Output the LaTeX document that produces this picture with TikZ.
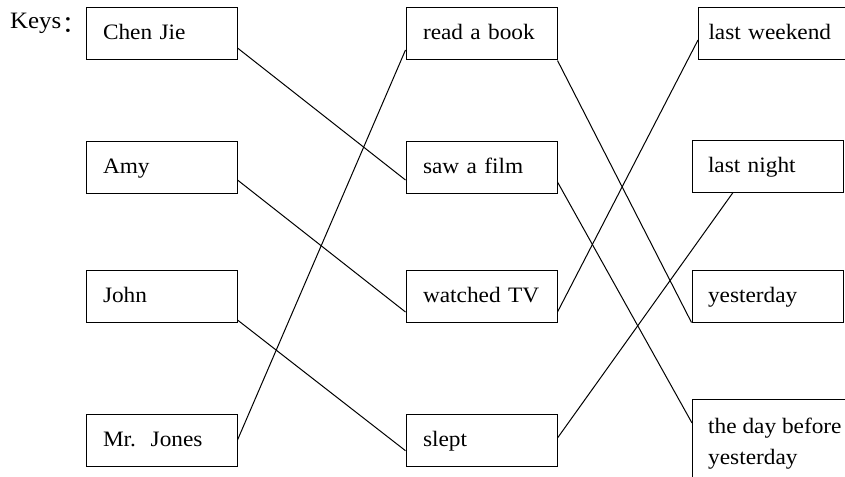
\documentclass[tikz,border=0pt]{standalone}
\usepackage{fontspec}
\setmainfont{Liberation Serif}[FakeStretch=1.06]
\newfontfamily\cjk{Noto Sans CJK SC}
\begin{document}
\begin{tikzpicture}[x=1pt,y=-1pt,
  box/.style={draw,line width=1pt,minimum height=52pt,inner xsep=17pt,inner ysep=0pt,
    text width=117pt,align=left,text height=15pt,text depth=3pt,
    font=\fontsize{22}{31}\selectfont},
  link/.style={line width=1pt}]
\useasboundingbox (0,0) rectangle (845,476);
\clip (0,0) rectangle (845,476);
% left column
\node[box] (cj) at (161.5,34) {Chen Jie};
\node[box] (amy) at (161.5,167.5) {Amy};
\node[box] (john) at (161.5,296.5) {John};
\node[box] (jones) at (161.5,440) {Mr.\ \ Jones};
% middle column
\node[box] (read) at (481.5,34) {read a book};
\node[box] (saw) at (481.5,167.5) {saw a film};
\node[box] (tv) at (481.5,296.5) {watched TV};
\node[box] (slept) at (481.5,440) {slept};
% right column
\node[box,inner xsep=10pt,text width=150pt,anchor=west] (lw) at (698,34) {last weekend};
\node[box,inner xsep=16pt,text width=119pt] (ln) at (767.5,166) {last night};
\node[box,inner xsep=16pt,text width=119pt] (yd) at (767.5,296) {yesterday};
\node[draw,line width=1pt,anchor=north west,minimum width=180pt,minimum height=110pt,inner sep=0pt] (db) at (692,399) {};
\node[anchor=north west,inner sep=0pt,align=left,font=\fontsize{22}{30.7}\selectfont] (dbt) at (708,417.7) {the day before\\yesterday};
% label
\node[anchor=base west,inner sep=0pt,font=\fontsize{23.5}{28}\selectfont] (keys) at (10,28.3) {Keys\kern1pt\raisebox{-4pt}{\cjk ：}};
% connectors
\draw[link] ([yshift=-14pt]cj.east) -- ([yshift=-12.5pt]saw.west);
\draw[link] ([yshift=-12.5pt]amy.east) -- ([yshift=-15.5pt]tv.west);
\draw[link] ([yshift=-23.5pt]john.east) -- ([yshift=-10.7pt]slept.west);
\draw[link] (jones.east) -- ([yshift=-16pt]read.west);
\draw[link] (read.south east) -- (yd.south west);
\draw[link] ([yshift=-14.5pt]saw.east) -- ([yshift=-24pt]db.north west);
\draw[link] ([yshift=-15.5pt]tv.east) -- ([yshift=-6pt]lw.west);
\draw[link] ([yshift=2pt]slept.east) -- ([xshift=-34.5pt]ln.south);
\end{tikzpicture}
\end{document}
